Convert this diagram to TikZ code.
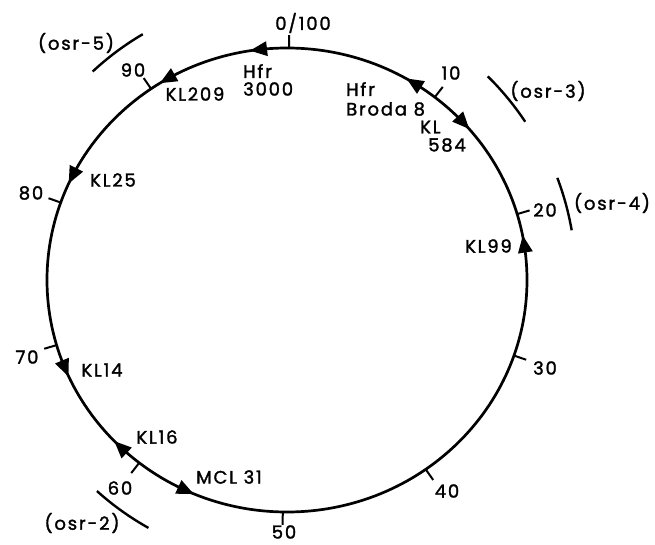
\documentclass[tikz,border=0pt]{standalone}
\usepackage{fontspec}
\setmainfont{Poppins}[LetterSpace=10, FakeBold=1.6]
\begin{document}
\begin{tikzpicture}[x=1pt,y=1pt,
  ring/.style={line width=2.7pt},
  tickmark/.style={line width=2pt},
  osrarc/.style={line width=2.4pt},
  lbl/.style={inner sep=0pt, font=\fontsize{18}{20}\selectfont}]
\useasboundingbox (0,0) rectangle (655,544);
\coordinate (C) at (287,264);
\draw[ring] (C) ellipse [x radius=240pt, y radius=232pt];
% ticks
\foreach \m/\a in {0/0.5,10/38,20/73.5,30/109,40/144.7,50/181,60/218,70/253.7,80/289.5,90/325.5}{
  \coordinate (ti\m) at ({287+240*sin(\a)},{264+232*cos(\a)});
  \coordinate (to\m) at ({287+253*sin(\a)},{264+245*cos(\a)});
  \draw[tickmark] (ti\m) -- (to\m);
}
% arrowheads
\foreach \n/\a/\d in {h3000/353.3/180, kl209/330.2/180, kl25/296.8/180, broda/32/180, kl584/47.2/0, kl99/81.2/180, kl14/247.7/180, kl16/223.8/0, mcl31/205/180}{
  \coordinate (ar\n) at ({287+240*sin(\a)},{264+232*cos(\a)});
  \fill[shift={(ar\n)}, rotate={\d-\a}] (9pt,0pt) -- (-8pt,7.5pt) -- (-8pt,-7.5pt) -- cycle;
}
% osr arcs
\draw[osrarc] (C) ++(120.4:285pt) arc[start angle=120.4, end angle=133, radius=285pt];
\draw[osrarc] (C) ++(33.6:286pt) arc[start angle=33.6, end angle=45.4, radius=286pt];
\draw[osrarc] (C) ++(9.9:289pt) arc[start angle=9.9, end angle=20.7, radius=289pt];
\draw[osrarc] (C) ++(228:284pt) arc[start angle=228, end angle=240.8, radius=284pt];
% map numbers
\node[lbl] (n0) at (303,521) {0/100};
\node[lbl] (n10) at (451,471) {10};
\node[lbl] (n20) at (545,334) {20};
\node[lbl] (n30) at (545,176) {30};
\node[lbl] (n40) at (447,53) {40};
\node[lbl] (n50) at (284,12) {50};
\node[lbl] (n60) at (120,56) {60};
\node[lbl] (n70) at (27,187) {70};
\node[lbl] (n80) at (31,351) {80};
\node[lbl] (n90) at (133,474) {90};
% strain labels
\node[lbl, anchor=west] (h1) at (243,473) {Hfr};
\node[lbl, anchor=west] (h2) at (243,455) {3000};
\node[lbl] (k209) at (195,450) {KL209};
\node[lbl] (k25) at (113,364) {KL25};
\node[lbl, anchor=west] (b1) at (346,455) {Hfr};
\node[lbl, anchor=west] (b2) at (346,435) {Broda 8};
\node[lbl, anchor=west] (k1) at (420,417) {KL};
\node[lbl, anchor=west] (k2) at (428,399) {584};
\node[lbl, anchor=east] (k99) at (512,298) {KL99};
\node[lbl] (k14) at (102,174) {KL14};
\node[lbl] (k16) at (157,107) {KL16};
\node[lbl] (m31) at (229,67) {MCL 31};
% osr labels
\node[lbl] (o5) at (76,501) {(osr-5)};
\node[lbl] (o3) at (548,453) {(osr-3)};
\node[lbl] (o4) at (612,341) {(osr-4)};
\node[lbl] (o2) at (82,21) {(osr-2)};
\end{tikzpicture}
\end{document}
